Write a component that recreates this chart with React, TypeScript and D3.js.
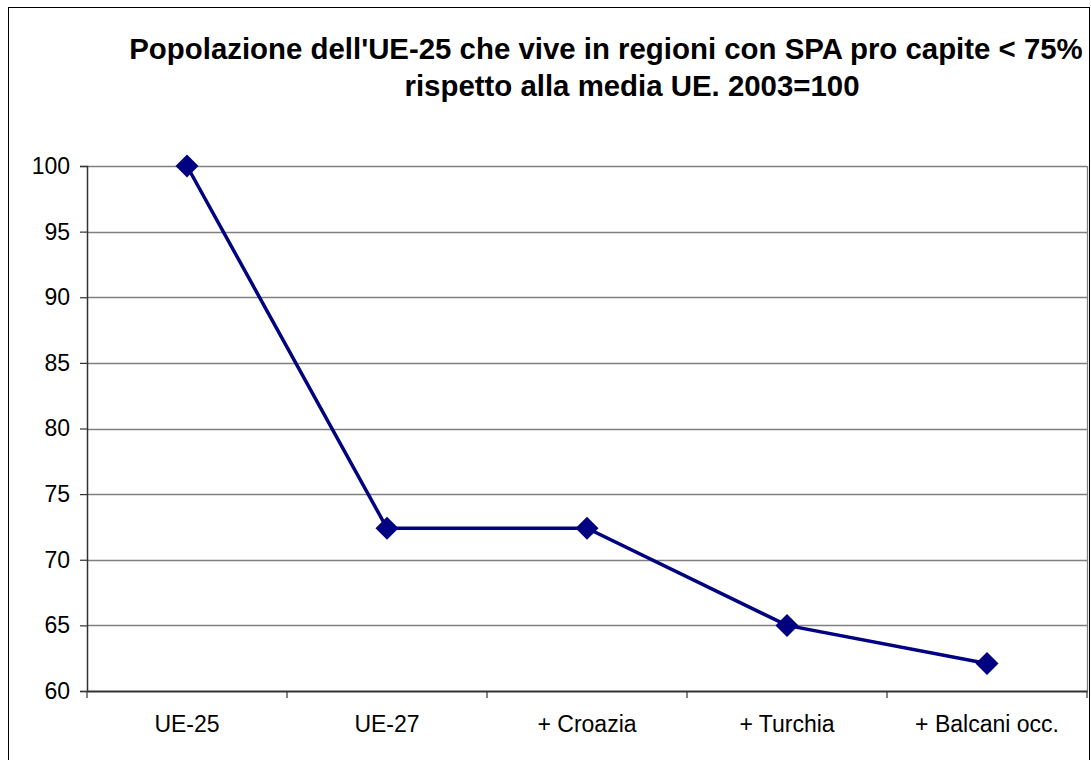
import React, { useEffect, useRef } from 'react';
import * as d3 from 'd3';

const categories = ['UE-25', 'UE-27', '+ Croazia', '+ Turchia', '+ Balcani occ.'];
const values = [100, 72.4, 72.4, 65, 62.1];
const yTicks = [60, 65, 70, 75, 80, 85, 90, 95, 100];
const titleLines = [
  "Popolazione dell'UE-25 che vive in regioni con SPA pro capite < 75%",
  'rispetto alla media UE. 2003=100',
];

const W = 1091;
const H = 760;

const App = () => {
  const ref = useRef<SVGSVGElement>(null);

  useEffect(() => {
    const svg = d3.select(ref.current);
    svg.selectAll('*').remove();

    const left = 87;
    const right = 1087;
    const top = 166;
    const bottom = 691;

    const x = d3.scaleBand().domain(categories).range([left, right]);
    const y = d3.scaleLinear().domain([60, 100]).range([bottom, top]);

    // outer frame
    svg.append('rect')
      .attr('x', 8.5).attr('y', 7.5)
      .attr('width', 1081).attr('height', 800)
      .attr('fill', 'white').attr('stroke', '#000').attr('stroke-width', 1);

    // title
    const titleX = [606, 632];
    svg.append('g')
      .selectAll('text')
      .data(titleLines)
      .join('text')
      .attr('x', (d, i) => titleX[i])
      .attr('y', (d, i) => 59 + i * 37)
      .attr('text-anchor', 'middle')
      .style('font-family', 'Arial, "Liberation Sans", sans-serif')
      .style('font-weight', 'bold')
      .style('font-size', '29.4px')
      .text((d) => d);

    // gridlines
    svg.append('g')
      .selectAll('line')
      .data(yTicks.filter((t) => t !== 60))
      .join('line')
      .attr('x1', left).attr('x2', right)
      .attr('y1', (d) => Math.round(y(d)) + 0.5)
      .attr('y2', (d) => Math.round(y(d)) + 0.5)
      .attr('stroke', '#808080').attr('stroke-width', 1.3);

    // plot right border
    svg.append('line')
      .attr('x1', right + 0.5).attr('x2', right + 0.5)
      .attr('y1', top).attr('y2', bottom)
      .attr('stroke', '#808080').attr('stroke-width', 1.3);

    // y axis
    const yAxis = svg.append('g').attr('transform', `translate(${left},0)`)
      .call(d3.axisLeft(y).tickValues(yTicks).tickSize(7).tickPadding(10).tickFormat(d3.format('d')));
    yAxis.select('.domain').attr('stroke', '#333').attr('stroke-width', 1.5);
    yAxis.selectAll('.tick line').attr('stroke', '#333').attr('stroke-width', 1.2);
    yAxis.selectAll('text')
      .attr('fill', '#000')
      .style('font-family', 'Arial, "Liberation Sans", sans-serif')
      .style('font-size', '23px');

    // x axis
    const xAxis = svg.append('g').attr('transform', `translate(0,${bottom})`)
      .call(d3.axisBottom(x).tickSize(0).tickPadding(25));
    xAxis.select('.domain').attr('stroke', '#333').attr('stroke-width', 1.8);
    xAxis.selectAll('text')
      .attr('fill', '#000')
      .style('font-family', 'Arial, "Liberation Sans", sans-serif')
      .style('font-size', '23px');

    const bounds = [...categories.map((c) => x(c) as number), right];
    svg.append('g')
      .selectAll('line')
      .data(bounds)
      .join('line')
      .attr('x1', (d) => d).attr('x2', (d) => d)
      .attr('y1', bottom).attr('y2', bottom + 7)
      .attr('stroke', '#333').attr('stroke-width', 1.2);

    const cx = (i: number) => (x(categories[i]) as number) + x.bandwidth() / 2;

    const line = d3.line<number>()
      .x((d, i) => cx(i))
      .y((d) => y(d));

    svg.append('path')
      .datum(values)
      .attr('d', line)
      .attr('fill', 'none')
      .attr('stroke', '#000080')
      .attr('stroke-width', 3.5);

    const r = 11.5;
    svg.append('g')
      .selectAll('path')
      .data(values)
      .join('path')
      .attr('d', (d, i) => {
        const px = cx(i);
        const py = y(d);
        return `M${px},${py - r}L${px + r},${py}L${px},${py + r}L${px - r},${py}Z`;
      })
      .attr('fill', '#000080');
  }, []);

  return (
    <svg ref={ref} width={W} height={H}
      style={{ position: 'absolute', left: 0, top: 0, display: 'block' }} />
  );
};

export default App;
